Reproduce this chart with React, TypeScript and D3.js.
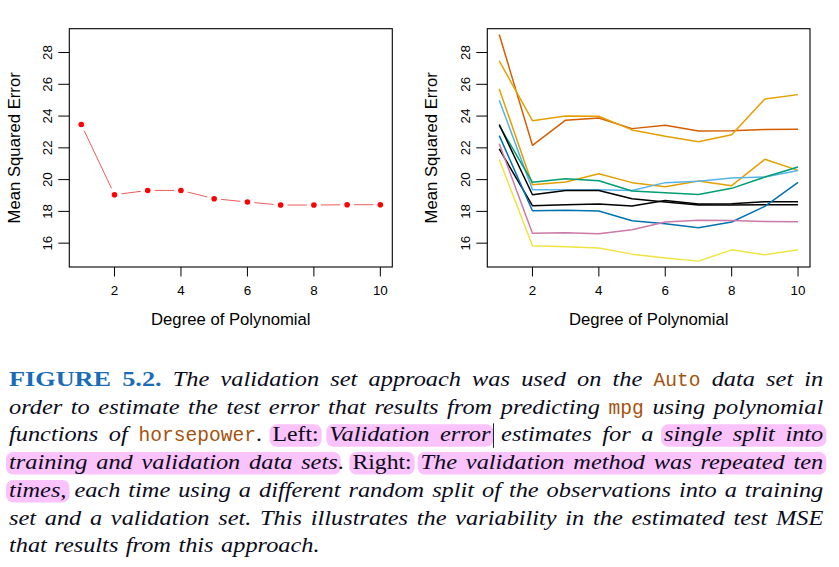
import React, { useEffect, useRef } from "react";
import * as d3 from "d3";

// ---------------- data ----------------
const degrees = [1, 2, 3, 4, 5, 6, 7, 8, 9, 10];
const singleSplitMSE = [23.47, 19.05, 19.32, 19.32, 18.8, 18.59, 18.4, 18.4, 18.42, 18.42];

const splitVermillion = [29.13, 22.16, 23.74, 23.88, 23.21, 23.42, 23.06, 23.08, 23.15, 23.17];
const splitOrangeA = [27.47, 23.71, 24.0, 23.99, 23.13, 22.73, 22.39, 22.83, 25.08, 25.35];
const splitOrangeB = [25.71, 19.68, 19.85, 20.37, 19.81, 19.55, 19.91, 19.62, 21.28, 20.58];
const splitSkyBlue = [25.0, 19.37, 19.37, 19.37, 19.32, 19.81, 19.89, 20.1, 20.16, 20.58];
const splitGreen = [23.4, 19.83, 20.06, 19.93, 19.28, 19.18, 19.07, 19.45, 20.16, 20.79];
const splitBlackA = [23.47, 19.05, 19.32, 19.32, 18.8, 18.59, 18.4, 18.4, 18.42, 18.42];
const splitBlackB = [21.93, 18.36, 18.42, 18.46, 18.34, 18.69, 18.46, 18.48, 18.61, 18.61];
const splitBlue = [22.77, 18.04, 18.08, 18.02, 17.41, 17.22, 16.97, 17.33, 18.32, 19.83];
const splitPink = [22.26, 16.63, 16.66, 16.59, 16.84, 17.33, 17.45, 17.43, 17.37, 17.35];
const splitYellow = [21.26, 15.84, 15.77, 15.69, 15.31, 15.06, 14.87, 15.58, 15.27, 15.58];

const repeatedSplits = [
  splitVermillion, splitOrangeA, splitOrangeB, splitSkyBlue, splitGreen,
  splitBlackA, splitBlackB, splitBlue, splitPink, splitYellow,
];
const splitColors = [
  "#D55E00", "#E69F00", "#E69F00", "#56B4E9", "#009E73",
  "#000000", "#000000", "#0072B2", "#CC79A7", "#F0E442",
];

const xTicks = [2, 4, 6, 8, 10];
const yTicks = [16, 18, 20, 22, 24, 26, 28];
const xTitle = "Degree of Polynomial";
const yTitle = "Mean Squared Error";

// caption segments: [text, style, highlight group]
// style: b = bold blue, i = italic, r = roman, m = typewriter brown
type Seg = [string, string, number];
const captionLines: Seg[][] = [
  [["FIGURE 5.2.", "b", 0], [" The validation set approach was used on the ", "i", 0], ["Auto", "m", 0], [" data set in", "i", 0]],
  [["order to estimate the test error that results from predicting ", "i", 0], ["mpg", "m", 0], [" using polynomial", "i", 0]],
  [["functions of ", "i", 0], ["horsepower", "m", 0], [".", "r", 0], [" ", "r", 0], ["Left:", "r", 1], [" ", "r", 0], ["Validation error", "i", 2], [" estimates for a ", "i", 0], ["single split into", "i", 3]],
  [["training and validation data sets", "i", 4], [".", "r", 0], [" ", "r", 0], ["Right:", "r", 5], [" ", "r", 0], ["The validation method was repeated ten", "i", 6]],
  [["times,", "i", 7], [" each time using a different random split of the observations into a training", "i", 0]],
  [["set and a validation set. This illustrates the variability in the estimated test MSE", "i", 0]],
  [["that results from this approach.", "i", 0]],
];
const cursorGroup = 2;

// ---------------- layout ----------------
const W = 839;
const H = 567;
const TOP = 28.7;
const BOTTOM = 267;
const SANS = "'Liberation Sans', Arial, Helvetica, sans-serif";
const SERIF = "'Liberation Serif', 'Times New Roman', serif";
const MONO = "'Liberation Mono', 'DejaVu Sans Mono', monospace";

const panels = [
  { left: 69.3, right: 392.3, yTickX: 52.3, yTitleX: 20.3 },
  { left: 487.3, right: 810, yTickX: 470, yTitleX: 437 },
];

type Word = { runs: { t: string; s: string; h: number }[] };

function parseLine(segs: Seg[]): Word[] {
  const words: Word[] = [];
  let attach = false;
  for (const [t, s, h] of segs) {
    const parts = t.split(" ");
    parts.forEach((p, i) => {
      if (i > 0) attach = false;
      if (p === "") return;
      if (attach && words.length) words[words.length - 1].runs.push({ t: p, s, h });
      else words.push({ runs: [{ t: p, s, h }] });
      attach = true;
    });
  }
  return words;
}

function Panel({ idx }: { idx: number }) {
  const p = panels[idx];
  const x = d3.scaleLinear().domain([0.64, 10.36]).range([p.left, p.right]);
  const y = d3.scaleLinear().domain([14.5, 29.5]).range([BOTTOM, TOP]);
  return (
    <g fontFamily={SANS} fill="#000">
      <rect x={p.left} y={TOP} width={p.right - p.left} height={BOTTOM - TOP} fill="none" stroke="#000" strokeWidth={1.1} />
      {xTicks.map((t) => (
        <g key={"x" + t}>
          <line x1={x(t)} x2={x(t)} y1={BOTTOM} y2={BOTTOM + 9.5} stroke="#000" strokeWidth={1} />
          <text x={x(t)} y={295} textAnchor="middle" fontSize={13.4}>{t}</text>
        </g>
      ))}
      {yTicks.map((t) => (
        <g key={"y" + t}>
          <line x1={p.left - 11} x2={p.left} y1={y(t)} y2={y(t)} stroke="#000" strokeWidth={1} />
          <text transform={`translate(${p.yTickX},${y(t)}) rotate(-90)`} textAnchor="middle" fontSize={13.4}>{t}</text>
        </g>
      ))}
      <text x={(p.left + p.right) / 2} y={324.5} textAnchor="middle" fontSize={16.7}>{xTitle}</text>
      <text transform={`translate(${p.yTitleX},${(TOP + BOTTOM) / 2}) rotate(-90)`} textAnchor="middle" fontSize={16.7}>{yTitle}</text>
    </g>
  );
}

export default function App() {
  const capRef = useRef<SVGGElement>(null);

  useEffect(() => {
    const g = d3.select(capRef.current);
    g.selectAll("*").remove();
    const hl = g.append("g");
    const tx = g.append("g");
    const XL = 9;
    const XR = 823.3;
    const BASE0 = 385.8;
    const LEAD = 27.77;
    const stretch: Record<string, number> = { b: 1.28, i: 1.17, r: 1.14, m: 1 };
    const style = (el: any, s: string) => {
      if (s === "b") el.attr("font-family", SERIF).attr("font-weight", "bold").attr("font-size", 20.5).attr("fill", "#1a6bb8");
      else if (s === "i") el.attr("font-family", SERIF).attr("font-style", "italic").attr("font-size", 20.8).attr("fill", "#0b0b1a");
      else if (s === "r") el.attr("font-family", SERIF).attr("font-size", 20.8).attr("fill", "#0b0b1a");
      else el.attr("font-family", MONO).attr("font-size", 19.6).attr("fill", "#a5520f");
    };
    captionLines.forEach((segs, li) => {
      const words = parseLine(segs);
      const y = BASE0 + li * LEAD;
      const placed = words.map((w) =>
        w.runs.map((r) => {
          const el = tx.append("text").attr("y", y).text(r.t);
          style(el, r.s);
          let wd = (el.node() as SVGTextElement).getComputedTextLength();
          const f = stretch[r.s];
          if (f !== 1) {
            const tw = wd * f;
            el.attr("textLength", tw).attr("lengthAdjust", "spacingAndGlyphs");
            wd = tw;
          }
          return { el, wd, h: r.h };
        })
      );
      const total = d3.sum(placed, (rs) => d3.sum(rs, (r) => r.wd));
      const justified = li < captionLines.length - 1;
      const gap = justified ? (XR - XL - total) / (words.length - 1) : 7.5;
      let x = XL;
      const pos: { x0: number; x1: number; h: number }[] = [];
      placed.forEach((rs) => {
        rs.forEach((r) => {
          r.el.attr("x", x);
          pos.push({ x0: x, x1: x + r.wd, h: r.h });
          x += r.wd;
        });
        x += gap;
      });
      const groups = d3.groups(pos.filter((p) => p.h > 0), (p) => p.h);
      groups.forEach(([h, ps]) => {
        const x0 = d3.min(ps, (p) => p.x0)! - 3;
        const x1 = d3.max(ps, (p) => p.x1)! + 3;
        hl.append("rect").attr("x", x0).attr("y", y - 17).attr("width", x1 - x0).attr("height", 22.5)
          .attr("rx", 7).attr("fill", "#fbc3fb");
        if (h === cursorGroup) {
          g.append("line").attr("x1", x1).attr("x2", x1).attr("y1", y - 18).attr("y2", y + 6.5)
            .attr("stroke", "#123").attr("stroke-width", 1);
        }
      });
    });
  }, []);

  const leftX = d3.scaleLinear().domain([0.64, 10.36]).range([panels[0].left, panels[0].right]);
  const leftY = d3.scaleLinear().domain([14.5, 29.5]).range([BOTTOM, TOP]);
  const rightX = d3.scaleLinear().domain([0.64, 10.36]).range([panels[1].left, panels[1].right]);
  const rightY = d3.scaleLinear().domain([14.5, 29.5]).range([BOTTOM, TOP]);

  const pts = degrees.map((d, i) => [leftX(d), leftY(singleSplitMSE[i])] as [number, number]);
  const gapR = 7;
  const segs = pts.slice(1).map((p, i) => {
    const a = pts[i];
    const dx = p[0] - a[0];
    const dy = p[1] - a[1];
    const len = Math.hypot(dx, dy);
    const ux = dx / len;
    const uy = dy / len;
    return [a[0] + ux * gapR, a[1] + uy * gapR, p[0] - ux * gapR, p[1] - uy * gapR];
  });

  const line = d3
    .line<number>()
    .x((_, i) => rightX(degrees[i]))
    .y((v) => rightY(v));

  return (
    <svg width={W} height={H} style={{ position: "absolute", left: 0, top: 0, background: "#fff" }}>
      <rect width={W} height={H} fill="#fff" />
      <g>
        {segs.map((s, i) => (
          <line key={i} x1={s[0]} y1={s[1]} x2={s[2]} y2={s[3]} stroke="#f25a5a" strokeWidth={1} />
        ))}
        {pts.map((p, i) => (
          <circle key={i} cx={p[0]} cy={p[1]} r={2.8} fill="#ff0000" />
        ))}
      </g>
      <Panel idx={0} />
      <g clipPath="url(#clipR)">
        <clipPath id="clipR">
          <rect x={panels[1].left} y={TOP} width={panels[1].right - panels[1].left} height={BOTTOM - TOP} />
        </clipPath>
        {repeatedSplits.map((vals, i) => (
          <path key={i} d={line(vals) || ""} fill="none" stroke={splitColors[i]} strokeWidth={1.5} strokeLinejoin="round" />
        ))}
      </g>
      <Panel idx={1} />
      <g ref={capRef} />
    </svg>
  );
}
